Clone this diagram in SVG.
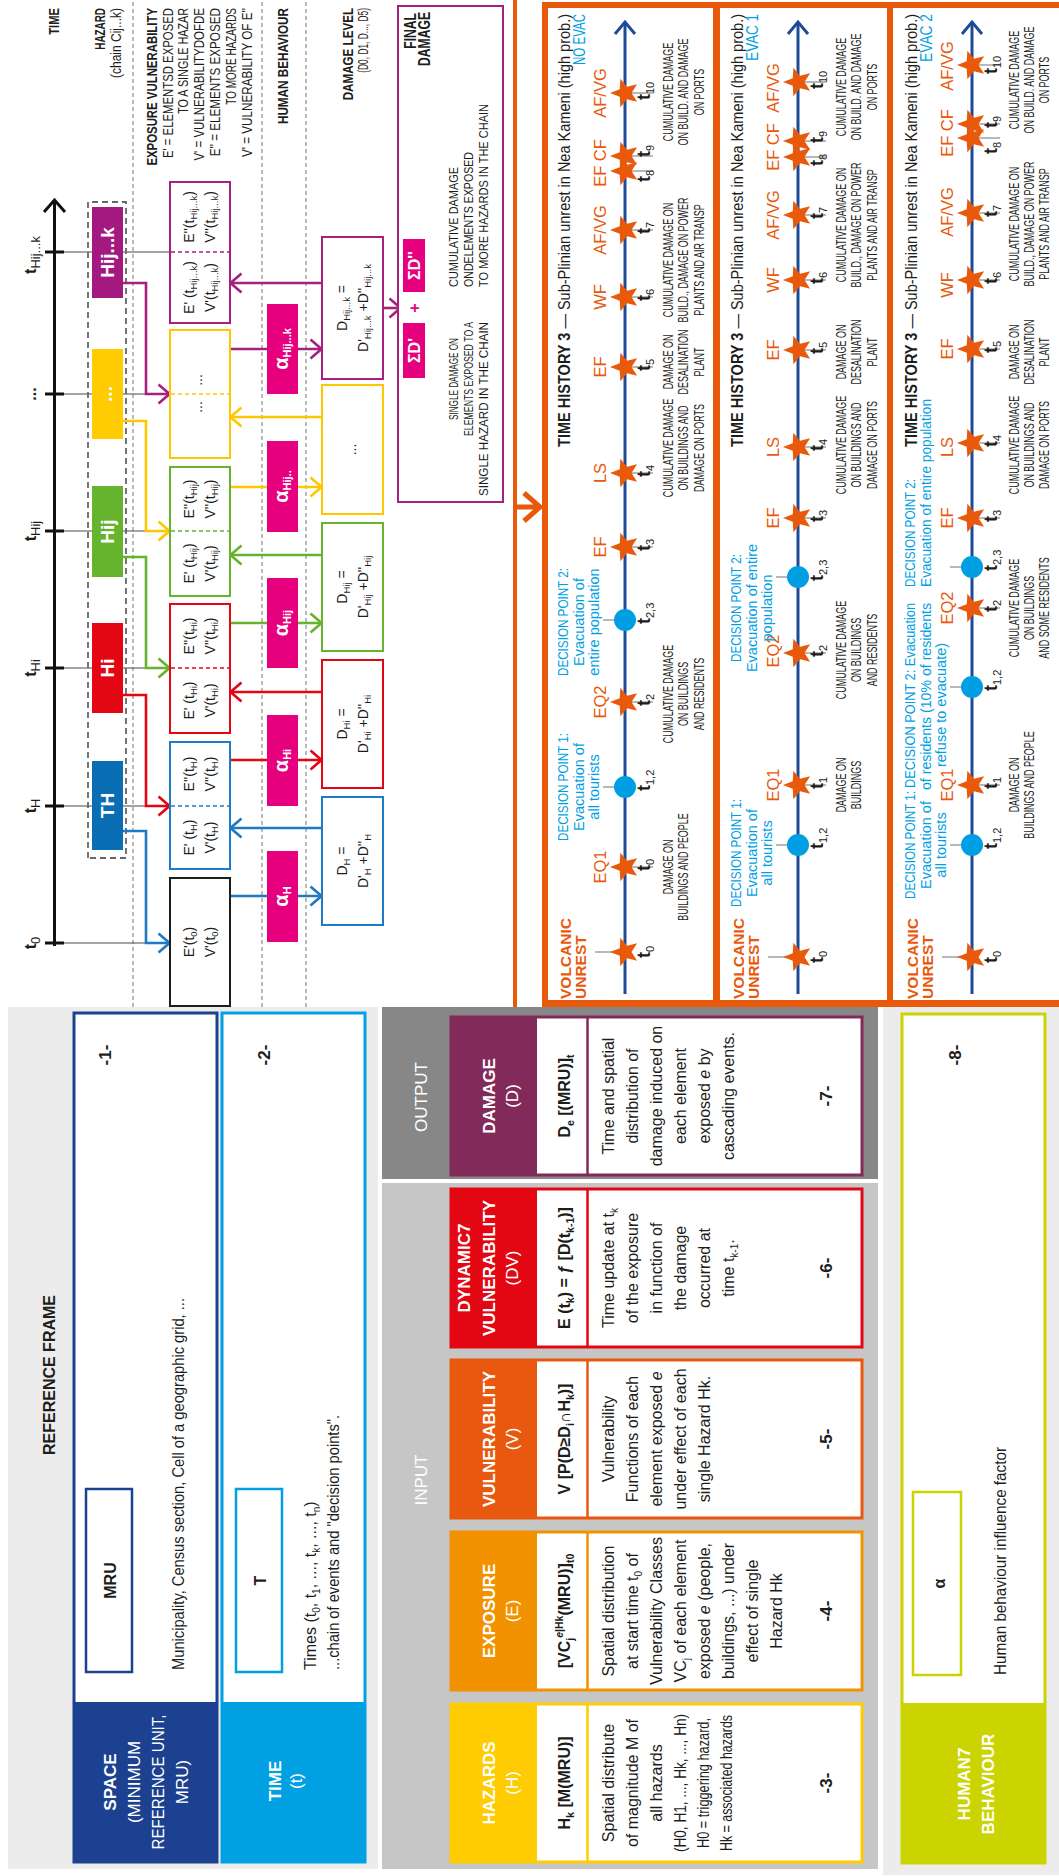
<svg xmlns="http://www.w3.org/2000/svg" width="1059" height="1876" viewBox="0 0 1059 1876">
<defs>
<style>
text{font-family:"Liberation Sans",Arial,Helvetica,sans-serif;fill:#1d1d1b;font-size:16px}
.b{font-weight:700}
.w{fill:#fff}
.m{text-anchor:middle}
.r{text-anchor:end}
.or{fill:#e8590c}
.cy{fill:#009fe3}
.sub{font-size:9.5px}
.dash{stroke:#8c8c8c;stroke-width:1.2;stroke-dasharray:4 3;fill:none}
.ln{fill:none;stroke-width:2.6}
.tk{stroke:#4a4a4a;stroke-width:1.2}
.gt{stroke:#a0a0a0;stroke-width:1.5}
.dm{font-size:14px;text-anchor:middle}
.ev{font-size:16.5px;fill:#e8590c;text-anchor:middle}
.dp{font-size:14.5px;fill:#009fe3;text-anchor:middle}
.dps{font-size:14.5px;fill:#009fe3}
.tt{font-size:18px;font-weight:700}
.tts{font-size:11px;font-weight:400}
.ex{font-size:14px;text-anchor:middle}
.hz{font-size:19px;font-weight:700;fill:#fff;text-anchor:middle}
.al{font-size:20px;font-weight:700;fill:#fff;text-anchor:middle}
.hd{font-size:17px;fill:#fff;text-anchor:middle}
.fm{font-size:16px;font-weight:700;text-anchor:middle}
.ds{font-size:16px;text-anchor:middle}
.num{font-size:17px;font-weight:700;text-anchor:middle}
.rl{font-size:15px;text-anchor:end}
.fd{font-size:12px}
.vu{font-size:15.5px;font-weight:700;fill:#e8590c}
.ttl{font-size:16px;text-anchor:end}
.tl{fill:none;stroke:#1e4b97;stroke-width:3}
</style>
<path id="star" d="M0,-15 L3.82,-5.26 L14.27,-4.64 L6.18,2.01 L8.82,12.14 L0,6.5 L-8.82,12.14 L-6.18,2.01 L-14.27,-4.64 L-3.82,-5.26 Z" fill="#e8590c"/>
<marker id="aBlue" viewBox="0 0 14 22" refX="13" refY="11" markerWidth="14" markerHeight="22" markerUnits="userSpaceOnUse" orient="auto"><path d="M1.5,1.5 L12.5,11 L1.5,20.5" fill="none" stroke="#1e7ac4" stroke-width="2.6"/></marker>
<marker id="aRed" viewBox="0 0 14 22" refX="13" refY="11" markerWidth="14" markerHeight="22" markerUnits="userSpaceOnUse" orient="auto"><path d="M1.5,1.5 L12.5,11 L1.5,20.5" fill="none" stroke="#e30613" stroke-width="2.6"/></marker>
<marker id="aGreen" viewBox="0 0 14 22" refX="13" refY="11" markerWidth="14" markerHeight="22" markerUnits="userSpaceOnUse" orient="auto"><path d="M1.5,1.5 L12.5,11 L1.5,20.5" fill="none" stroke="#66b32e" stroke-width="2.6"/></marker>
<marker id="aYellow" viewBox="0 0 14 22" refX="13" refY="11" markerWidth="14" markerHeight="22" markerUnits="userSpaceOnUse" orient="auto"><path d="M1.5,1.5 L12.5,11 L1.5,20.5" fill="none" stroke="#fdc800" stroke-width="2.6"/></marker>
<marker id="aPurple" viewBox="0 0 14 22" refX="13" refY="11" markerWidth="14" markerHeight="22" markerUnits="userSpaceOnUse" orient="auto"><path d="M1.5,1.5 L12.5,11 L1.5,20.5" fill="none" stroke="#a5207f" stroke-width="2.6"/></marker>
<marker id="aMag" viewBox="0 0 14 22" refX="13" refY="11" markerWidth="14" markerHeight="22" markerUnits="userSpaceOnUse" orient="auto"><path d="M1.5,1.5 L12.5,11 L1.5,20.5" fill="none" stroke="#e6007e" stroke-width="2.4"/></marker>
</defs>
<rect width="1059" height="1876" fill="#fff"/>
<!-- landscape layout, turned a quarter turn counter-clockwise -->
<g transform="translate(0 1876) rotate(-90)">

<!-- ===== row separators of the cascade chain ===== -->
<g id="row-separators">
<line class="dash" x1="869" y1="133" x2="1876" y2="133"/>
<line class="dash" x1="869" y1="262" x2="1876" y2="262"/>
<line class="dash" x1="869" y1="306" x2="1876" y2="306"/>
</g>

<!-- row labels -->
<g id="row-labels">
<text class="rl b" transform="translate(1868 59) scale(0.75 1)">TIME</text>
<text class="rl b" transform="translate(1868 105) scale(0.66 1)">HAZARD</text>
<text class="rl" transform="translate(1868 121) scale(0.8 1)">(chain Cij...k)</text>
<text class="rl b" transform="translate(1868 157) scale(0.76 1)">EXPOSURE VULNERABILITY</text>
<text class="rl" transform="translate(1868 173) scale(0.757 1)">E' = ELEMENTSD EXPOSED</text>
<text class="rl" transform="translate(1868 188) scale(0.72 1)">TO A SINGLE HAZAR</text>
<text class="rl" transform="translate(1868 204) scale(0.766 1)">V' = VULNERABILITYDOFDE</text>
<text class="rl" transform="translate(1868 220) scale(0.78 1)">E'' = ELEMENTS EXPOSED</text>
<text class="rl" transform="translate(1868 236) scale(0.665 1)">TO MORE HAZARDS</text>
<text class="rl" transform="translate(1868 252) scale(0.78 1)">V' = VULNERABILITY OF E''</text>
<text class="rl b" transform="translate(1868 288) scale(0.78 1)">HUMAN BEHAVIOUR</text>
<text class="rl b" transform="translate(1868 353) scale(0.775 1)">DAMAGE LEVEL</text>
<text class="rl" font-size="13" transform="translate(1868 368) scale(0.56 1)">(D0, D1, D..., D5)</text>
</g>

<!-- ===== orange divider towards the time histories ===== -->
<g id="divider">
<line x1="869" y1="515" x2="1876" y2="515" stroke="#e8590c" stroke-width="4"/>
<path d="M1369,515 V538 M1355,524 L1369,540 L1383,524" fill="none" stroke="#e8590c" stroke-width="5"/>
</g>

<!-- ===== time history frames ===== -->
<g id="time-history-frames">
<rect x="869" y="542" width="1005" height="524" fill="#e8590c"/>
<rect x="876" y="548" width="992" height="165" fill="#fff"/>
<rect x="876" y="720" width="992" height="167" fill="#fff"/>
<rect x="876" y="893" width="992" height="173" fill="#fff"/>
</g>

<!-- ===== time history 1 ===== -->
<g id="time-history-1">
<text class="ttl" transform="translate(1862 570) scale(0.908 1)"><tspan class="b">TIME HISTORY 3</tspan> — Sub-Plinian unrest in Nea Kameni (high prob.)</text>
<text class="cy r" font-size="14" transform="translate(1862 585) scale(0.72 1)">NO EVAC</text>
<line x1="882" y1="625" x2="1853" y2="625" stroke="#1e4b97" stroke-width="3"/>
<polyline class="tl" points="1842,615 1854,625 1842,635"/>
<g class="gt">
<line x1="924" y1="595" x2="924" y2="625"/><line x1="1089" y1="603" x2="1089" y2="625"/><line x1="1256" y1="603" x2="1256" y2="625"/>
<line x1="1009" y1="625" x2="1009" y2="653"/><line x1="1174" y1="625" x2="1174" y2="653"/><line x1="1329" y1="625" x2="1329" y2="653"/>
<line x1="1403" y1="625" x2="1403" y2="653"/><line x1="1509" y1="625" x2="1509" y2="653"/><line x1="1579" y1="625" x2="1579" y2="653"/>
<line x1="1646" y1="625" x2="1646" y2="653"/><line x1="1705" y1="625" x2="1705" y2="653"/><line x1="1720" y1="625" x2="1720" y2="653"/>
<line x1="1783" y1="625" x2="1783" y2="653"/>
</g>
<use href="#star" x="924" y="625"/><use href="#star" x="1009" y="625"/><use href="#star" x="1174" y="625"/><use href="#star" x="1329" y="625"/>
<use href="#star" x="1403" y="625"/><use href="#star" x="1509" y="625"/><use href="#star" x="1579" y="625"/><use href="#star" x="1646" y="625"/>
<use href="#star" x="1705" y="625"/><use href="#star" x="1720" y="625"/><use href="#star" x="1783" y="625"/>
<circle cx="1089" cy="625" r="11" fill="#009fe3"/><circle cx="1256" cy="625" r="11" fill="#009fe3"/>
<text class="vu" x="877" y="571">VOLCANIC</text><text class="vu" x="877" y="586">UNREST</text>
<text class="ev" x="1009" y="606">EQ1</text><text class="ev" x="1174" y="606">EQ2</text><text class="ev" x="1329" y="606">EF</text>
<text class="ev" x="1403" y="606">LS</text><text class="ev" x="1509" y="606">EF</text><text class="ev" x="1579" y="606">WF</text>
<text class="ev" x="1646" y="606">AF/VG</text><text class="ev" x="1713" y="606">EF CF</text><text class="ev" x="1783" y="606">AF/VG</text>
<text class="dps" x="1035" y="568" textLength="108" lengthAdjust="spacingAndGlyphs">DECISION POINT 1:</text>
<text class="dp" x="1089" y="584">Evacuation of</text><text class="dp" x="1089" y="599">all tourists</text>
<text class="dps" x="1200" y="568" textLength="108" lengthAdjust="spacingAndGlyphs">DECISION POINT 2:</text>
<text class="dp" x="1254" y="584">Evacuation of</text><text class="dp" x="1254" y="599">entire population</text>
<text class="tt" x="918" y="650">t<tspan class="tts" dy="4">0</tspan></text>
<text class="tt" x="1005" y="650">t<tspan class="tts" dy="4">0</tspan></text>
<text class="tt" x="1085" y="650">t<tspan class="tts" dy="4">1,2</tspan></text>
<text class="tt" x="1170" y="650">t<tspan class="tts" dy="4">2</tspan></text>
<text class="tt" x="1252" y="650">t<tspan class="tts" dy="4">2,3</tspan></text>
<text class="tt" x="1325" y="650">t<tspan class="tts" dy="4">3</tspan></text>
<text class="tt" x="1399" y="650">t<tspan class="tts" dy="4">4</tspan></text>
<text class="tt" x="1505" y="650">t<tspan class="tts" dy="4">5</tspan></text>
<text class="tt" x="1575" y="650">t<tspan class="tts" dy="4">6</tspan></text>
<text class="tt" x="1642" y="650">t<tspan class="tts" dy="4">7</tspan></text>
<text class="tt" x="1694" y="650">t<tspan class="tts" dy="4">8</tspan></text>
<text class="tt" x="1719" y="650">t<tspan class="tts" dy="4">9</tspan></text>
<text class="tt" x="1776" y="650">t<tspan class="tts" dy="4">10</tspan></text>
<g transform="translate(1009 673) scale(0.64 1)"><text class="dm"><tspan x="0" y="0">DAMAGE ON</tspan><tspan x="0" y="15.5">BUILDINGS AND PEOPLE</tspan></text></g>
<g transform="translate(1182 673) scale(0.64 1)"><text class="dm"><tspan x="0" y="0">CUMULATIVE DAMAGE</tspan><tspan x="0" y="15.5">ON BUILDINGS</tspan><tspan x="0" y="31">AND RESIDENTS</tspan></text></g>
<g transform="translate(1428 673) scale(0.64 1)"><text class="dm"><tspan x="0" y="0">CUMULATIVE DAMAGE</tspan><tspan x="0" y="15.5">ON BUILDINGS AND</tspan><tspan x="0" y="31">DAMAGE ON PORTS</tspan></text></g>
<g transform="translate(1514 673) scale(0.64 1)"><text class="dm"><tspan x="0" y="0">DAMAGE ON</tspan><tspan x="0" y="15.5">DESALINATION</tspan><tspan x="0" y="31">PLANT</tspan></text></g>
<g transform="translate(1616 673) scale(0.64 1)"><text class="dm"><tspan x="0" y="0">CUMULATIVE DAMAGE ON</tspan><tspan x="0" y="15.5">BUILD., DAMAGE ON POWER</tspan><tspan x="0" y="31">PLANTS AND AIR TRANSP</tspan></text></g>
<g transform="translate(1784 673) scale(0.64 1)"><text class="dm"><tspan x="0" y="0">CUMULATIVE DAMAGE</tspan><tspan x="0" y="15.5">ON BUILD. AND DAMAGE</tspan><tspan x="0" y="31">ON PORTS</tspan></text></g>
</g>

<!-- ===== time history 2 ===== -->
<g id="time-history-2">
<text class="ttl" transform="translate(1862 743) scale(0.908 1)"><tspan class="b">TIME HISTORY 3</tspan> — Sub-Plinian unrest in Nea Kameni (high prob.)</text>
<text class="cy r" font-size="14" transform="translate(1862 758) scale(0.84 1)">EVAC 1</text>
<line x1="882" y1="798" x2="1853" y2="798" stroke="#1e4b97" stroke-width="3"/>
<polyline class="tl" points="1842,788 1854,798 1842,808"/>
<g class="gt">
<line x1="919" y1="768" x2="919" y2="798"/><line x1="1031" y1="776" x2="1031" y2="798"/><line x1="1299" y1="776" x2="1299" y2="798"/>
<line x1="1091" y1="798" x2="1091" y2="826"/><line x1="1223" y1="798" x2="1223" y2="826"/><line x1="1358" y1="798" x2="1358" y2="826"/>
<line x1="1429" y1="798" x2="1429" y2="826"/><line x1="1526" y1="798" x2="1526" y2="826"/><line x1="1596" y1="798" x2="1596" y2="826"/>
<line x1="1661" y1="798" x2="1661" y2="826"/><line x1="1719" y1="798" x2="1719" y2="826"/><line x1="1735" y1="798" x2="1735" y2="826"/>
<line x1="1794" y1="798" x2="1794" y2="826"/>
</g>
<use href="#star" x="919" y="798"/><use href="#star" x="1091" y="798"/><use href="#star" x="1223" y="798"/><use href="#star" x="1358" y="798"/>
<use href="#star" x="1429" y="798"/><use href="#star" x="1526" y="798"/><use href="#star" x="1596" y="798"/><use href="#star" x="1661" y="798"/>
<use href="#star" x="1719" y="798"/><use href="#star" x="1735" y="798"/><use href="#star" x="1794" y="798"/>
<circle cx="1031" cy="798" r="11" fill="#009fe3"/><circle cx="1299" cy="798" r="11" fill="#009fe3"/>
<text class="vu" x="877" y="744">VOLCANIC</text><text class="vu" x="877" y="759">UNREST</text>
<text class="ev" x="1091" y="779">EQ1</text><text class="ev" x="1225" y="779">EQ2</text><text class="ev" x="1358" y="779">EF</text>
<text class="ev" x="1429" y="779">LS</text><text class="ev" x="1526" y="779">EF</text><text class="ev" x="1596" y="779">WF</text>
<text class="ev" x="1661" y="779">AF/VG</text><text class="ev" x="1729" y="779">EF CF</text><text class="ev" x="1788" y="779">AF/VG</text>
<text class="dps" x="969" y="741" textLength="108" lengthAdjust="spacingAndGlyphs">DECISION POINT 1:</text>
<text class="dp" x="1023" y="757">Evacuation of</text><text class="dp" x="1023" y="772">all tourists</text>
<text class="dps" x="1214" y="741" textLength="108" lengthAdjust="spacingAndGlyphs">DECISION POINT 2:</text>
<text class="dp" x="1268" y="757">Evacuation of entire</text><text class="dp" x="1268" y="772">population</text>
<text class="tt" x="913" y="823">t<tspan class="tts" dy="4">0</tspan></text>
<text class="tt" x="1027" y="823">t<tspan class="tts" dy="4">1,2</tspan></text>
<text class="tt" x="1087" y="823">t<tspan class="tts" dy="4">1</tspan></text>
<text class="tt" x="1219" y="823">t<tspan class="tts" dy="4">2</tspan></text>
<text class="tt" x="1295" y="823">t<tspan class="tts" dy="4">2,3</tspan></text>
<text class="tt" x="1354" y="823">t<tspan class="tts" dy="4">3</tspan></text>
<text class="tt" x="1425" y="823">t<tspan class="tts" dy="4">4</tspan></text>
<text class="tt" x="1522" y="823">t<tspan class="tts" dy="4">5</tspan></text>
<text class="tt" x="1592" y="823">t<tspan class="tts" dy="4">6</tspan></text>
<text class="tt" x="1657" y="823">t<tspan class="tts" dy="4">7</tspan></text>
<text class="tt" x="1710" y="823">t<tspan class="tts" dy="4">8</tspan></text>
<text class="tt" x="1733" y="823">t<tspan class="tts" dy="4">9</tspan></text>
<text class="tt" x="1787" y="823">t<tspan class="tts" dy="4">10</tspan></text>
<g transform="translate(1091 846) scale(0.64 1)"><text class="dm"><tspan x="0" y="0">DAMAGE ON</tspan><tspan x="0" y="15.5">BUILDINGS</tspan></text></g>
<g transform="translate(1226 846) scale(0.64 1)"><text class="dm"><tspan x="0" y="0">CUMULATIVE DAMAGE</tspan><tspan x="0" y="15.5">ON BUILDINGS</tspan><tspan x="0" y="31">AND RESIDENTS</tspan></text></g>
<g transform="translate(1431 846) scale(0.64 1)"><text class="dm"><tspan x="0" y="0">CUMULATIVE DAMAGE</tspan><tspan x="0" y="15.5">ON BUILDINGS AND</tspan><tspan x="0" y="31">DAMAGE ON PORTS</tspan></text></g>
<g transform="translate(1524 846) scale(0.64 1)"><text class="dm"><tspan x="0" y="0">DAMAGE ON</tspan><tspan x="0" y="15.5">DESALINATION</tspan><tspan x="0" y="31">PLANT</tspan></text></g>
<g transform="translate(1651 846) scale(0.64 1)"><text class="dm"><tspan x="0" y="0">CUMULATIVE DAMAGE ON</tspan><tspan x="0" y="15.5">BUILD., DAMAGE ON POWER</tspan><tspan x="0" y="31">PLANTS AND AIR TRANSP</tspan></text></g>
<g transform="translate(1789 846) scale(0.64 1)"><text class="dm"><tspan x="0" y="0">CUMULATIVE DAMAGE</tspan><tspan x="0" y="15.5">ON BUILD. AND DAMAGE</tspan><tspan x="0" y="31">ON PORTS</tspan></text></g>
</g>

<!-- ===== time history 3 ===== -->
<g id="time-history-3">
<text class="ttl" transform="translate(1862 917) scale(0.908 1)"><tspan class="b">TIME HISTORY 3</tspan> — Sub-Plinian unrest in Nea Kameni (high prob.)</text>
<text class="cy r" font-size="14" transform="translate(1862 932) scale(0.86 1)">EVAC 2</text>
<line x1="882" y1="972" x2="1853" y2="972" stroke="#1e4b97" stroke-width="3"/>
<polyline class="tl" points="1842,962 1854,972 1842,982"/>
<g class="gt">
<line x1="919" y1="942" x2="919" y2="972"/><line x1="1031" y1="950" x2="1031" y2="972"/><line x1="1189" y1="950" x2="1189" y2="972"/><line x1="1309" y1="950" x2="1309" y2="972"/>
<line x1="1091" y1="972" x2="1091" y2="1000"/><line x1="1268" y1="972" x2="1268" y2="1000"/><line x1="1358" y1="972" x2="1358" y2="1000"/>
<line x1="1433" y1="972" x2="1433" y2="1000"/><line x1="1527" y1="972" x2="1527" y2="1000"/><line x1="1596" y1="972" x2="1596" y2="1000"/>
<line x1="1663" y1="972" x2="1663" y2="1000"/><line x1="1738" y1="972" x2="1738" y2="1000"/><line x1="1752" y1="972" x2="1752" y2="1000"/>
<line x1="1811" y1="972" x2="1811" y2="1000"/>
</g>
<use href="#star" x="919" y="972"/><use href="#star" x="1091" y="972"/><use href="#star" x="1268" y="972"/><use href="#star" x="1358" y="972"/>
<use href="#star" x="1433" y="972"/><use href="#star" x="1527" y="972"/><use href="#star" x="1596" y="972"/><use href="#star" x="1663" y="972"/>
<use href="#star" x="1738" y="972"/><use href="#star" x="1752" y="972"/><use href="#star" x="1811" y="972"/>
<circle cx="1031" cy="972" r="11" fill="#009fe3"/><circle cx="1189" cy="972" r="11" fill="#009fe3"/><circle cx="1309" cy="972" r="11" fill="#009fe3"/>
<text class="vu" x="877" y="918">VOLCANIC</text><text class="vu" x="877" y="933">UNREST</text>
<text class="ev" x="1091" y="953">EQ1</text><text class="ev" x="1268" y="953">EQ2</text><text class="ev" x="1358" y="953">EF</text>
<text class="ev" x="1429" y="953">LS</text><text class="ev" x="1527" y="953">EF</text><text class="ev" x="1591" y="953">WF</text>
<text class="ev" x="1664" y="953">AF/VG</text><text class="ev" x="1743" y="953">EF CF</text><text class="ev" x="1810" y="953">AF/VG</text>
<text class="dps" x="977" y="915" textLength="108" lengthAdjust="spacingAndGlyphs">DECISION POINT 1:</text>
<text class="dp" x="1031" y="931">Evacuation of</text><text class="dp" x="1031" y="946">all tourists</text>
<text class="dps" x="1088" y="915" textLength="185" lengthAdjust="spacingAndGlyphs">DECISION POINT 2: Evacuation</text>
<text class="dps" x="1086" y="931" textLength="187" lengthAdjust="spacingAndGlyphs">of residents (10% of residents</text><text class="dp" x="1171" y="946">refuse to evacuate)</text>
<text class="dps" x="1289" y="915" textLength="108" lengthAdjust="spacingAndGlyphs">DECISION POINT 2:</text>
<text class="dps" x="1289" y="931" textLength="188" lengthAdjust="spacingAndGlyphs">Evacuation of entire population</text>
<text class="tt" x="913" y="997">t<tspan class="tts" dy="4">0</tspan></text>
<text class="tt" x="1027" y="997">t<tspan class="tts" dy="4">1,2</tspan></text>
<text class="tt" x="1087" y="997">t<tspan class="tts" dy="4">1</tspan></text>
<text class="tt" x="1185" y="997">t<tspan class="tts" dy="4">1,2</tspan></text>
<text class="tt" x="1264" y="997">t<tspan class="tts" dy="4">2</tspan></text>
<text class="tt" x="1305" y="997">t<tspan class="tts" dy="4">2,3</tspan></text>
<text class="tt" x="1354" y="997">t<tspan class="tts" dy="4">3</tspan></text>
<text class="tt" x="1429" y="997">t<tspan class="tts" dy="4">4</tspan></text>
<text class="tt" x="1523" y="997">t<tspan class="tts" dy="4">5</tspan></text>
<text class="tt" x="1592" y="997">t<tspan class="tts" dy="4">6</tspan></text>
<text class="tt" x="1659" y="997">t<tspan class="tts" dy="4">7</tspan></text>
<text class="tt" x="1722" y="997">t<tspan class="tts" dy="4">8</tspan></text>
<text class="tt" x="1748" y="997">t<tspan class="tts" dy="4">9</tspan></text>
<text class="tt" x="1802" y="997">t<tspan class="tts" dy="4">10</tspan></text>
<g transform="translate(1091 1019) scale(0.64 1)"><text class="dm"><tspan x="0" y="0">DAMAGE ON</tspan><tspan x="0" y="15">BUILDINGS AND PEOPLE</tspan></text></g>
<g transform="translate(1268 1019) scale(0.64 1)"><text class="dm"><tspan x="0" y="0">CUMULATIVE DAMAGE</tspan><tspan x="0" y="15">ON BUILDINGS</tspan><tspan x="0" y="30">AND SOME RESIDENTS</tspan></text></g>
<g transform="translate(1431 1019) scale(0.64 1)"><text class="dm"><tspan x="0" y="0">CUMULATIVE DAMAGE</tspan><tspan x="0" y="15">ON BUILDINGS AND</tspan><tspan x="0" y="30">DAMAGE ON PORTS</tspan></text></g>
<g transform="translate(1524 1019) scale(0.64 1)"><text class="dm"><tspan x="0" y="0">DAMAGE ON</tspan><tspan x="0" y="15">DESALINATION</tspan><tspan x="0" y="30">PLANT</tspan></text></g>
<g transform="translate(1652 1019) scale(0.64 1)"><text class="dm"><tspan x="0" y="0">CUMULATIVE DAMAGE ON</tspan><tspan x="0" y="15">BUILD., DAMAGE ON POWER</tspan><tspan x="0" y="30">PLANTS AND AIR TRANSP</tspan></text></g>
<g transform="translate(1796 1019) scale(0.64 1)"><text class="dm"><tspan x="0" y="0">CUMULATIVE DAMAGE</tspan><tspan x="0" y="15">ON BUILD. AND DAMAGE</tspan><tspan x="0" y="30">ON PORTS</tspan></text></g>
</g>

<!-- ===== reference frame ===== -->
<g id="reference-frame">
<rect x="7" y="8" width="862" height="370" fill="#ececec"/>
<text class="b m" x="501" y="55" font-size="19">REFERENCE FRAME</text>
</g>
<g id="space">
<rect x="14" y="74" width="849" height="143" fill="#fff" stroke="#1d4191" stroke-width="3"/>
<rect x="14" y="74" width="160" height="143" fill="#1d4191"/>
<text class="hd b" x="94" y="116" font-size="16">SPACE</text>
<text class="hd" x="94" y="140" font-size="15.5">(MINIMUM</text>
<text class="hd" x="26.5" y="164" font-size="15.5" style="text-anchor:start" textLength="135" lengthAdjust="spacingAndGlyphs">REFERENCE UNIT,</text>
<text class="hd" x="94" y="188" font-size="15.5">MRU)</text>
<rect x="204" y="86" width="183" height="46" fill="#fff" stroke="#1d4191" stroke-width="2.5"/>
<text class="b m" x="295.5" y="116" font-size="18">MRU</text>
<text x="206" y="184" font-size="17" textLength="372" lengthAdjust="spacingAndGlyphs">Municipality, Census section, Cell of a geographic grid, ...</text>
<text class="num" x="821" y="111">-1-</text>
</g>
<g id="time">
<rect x="14" y="222" width="849" height="143" fill="#fff" stroke="#00a0e3" stroke-width="3"/>
<rect x="14" y="222" width="160" height="143" fill="#00a0e3"/>
<text class="hd b" x="95" y="281" font-size="17">TIME</text>
<text class="hd" x="95" y="302" font-size="16">(t)</text>
<rect x="204" y="236" width="183" height="46" fill="#fff" stroke="#00a0e3" stroke-width="2.5"/>
<text class="b m" x="295.5" y="266" font-size="18">T</text>
<text x="206" y="316" font-size="17">Times (t<tspan font-size="10" dy="4">0</tspan><tspan dy="-4">, t</tspan><tspan font-size="10" dy="4">1</tspan><tspan dy="-4">, ..., t</tspan><tspan font-size="10" dy="4">k</tspan><tspan dy="-4">, ..., t</tspan><tspan font-size="10" dy="4">n</tspan><tspan dy="-4">)</tspan></text>
<text x="206" y="339" font-size="17" textLength="255" lengthAdjust="spacingAndGlyphs">...chain of events and "decision points".</text>
<text class="num" x="821" y="270">-2-</text>
</g>

<!-- ===== input / output ===== -->
<g id="input-output">
<rect x="7" y="382" width="686" height="496" fill="#c6c6c6"/>
<rect x="697" y="382" width="172" height="496" fill="#878787"/>
<text class="hd" x="396" y="427" font-size="18">INPUT</text>
<text class="hd" x="779" y="427" font-size="18">OUTPUT</text>
</g>
<g id="hazards">
<rect x="14" y="451" width="158" height="411" fill="#fff" stroke="#fecc00" stroke-width="3"/>
<rect x="14" y="451" width="158" height="86" fill="#fecc00"/>
<line x1="14" y1="587.5" x2="172" y2="587.5" stroke="#fecc00" stroke-width="2.5"/>
<text class="hd b" x="93" y="495">HAZARDS</text><text class="hd" x="93" y="518">(H)</text>
<text class="fm" x="93" y="570">H<tspan font-size="11" dy="4">k</tspan><tspan dy="-4"> [M(MRU)]</tspan></text>
<text class="ds" x="93" y="614">Spatial distribute</text>
<text class="ds" x="93" y="638">of magnitude M of</text>
<text class="ds" x="93" y="662">all hazards</text>
<text class="ds" x="24" y="686" style="text-anchor:start" textLength="138" lengthAdjust="spacingAndGlyphs">(H0, H1, ..., Hk, ..., Hn)</text>
<text x="28" y="709" font-size="13" textLength="130" lengthAdjust="spacingAndGlyphs">H0 = triggering hazard,</text>
<text x="25" y="732" font-size="13" textLength="136" lengthAdjust="spacingAndGlyphs">Hk = associated hazards</text>
<text class="num" x="93" y="832">-3-</text>
</g>
<g id="exposure">
<rect x="186" y="451" width="158" height="411" fill="#fff" stroke="#f39200" stroke-width="3"/>
<rect x="186" y="451" width="158" height="86" fill="#f39200"/>
<line x1="186" y1="587.5" x2="344" y2="587.5" stroke="#f39200" stroke-width="2.5"/>
<text class="hd b" x="265" y="495">EXPOSURE</text><text class="hd" x="265" y="518">(E)</text>
<text class="fm" x="265" y="570">[VC<tspan font-size="10.5" dy="4">j</tspan><tspan font-size="10.5" dy="-11" font-style="italic">e</tspan><tspan font-size="10.5">|Hk</tspan><tspan dy="7">(MRU)]</tspan><tspan font-size="10.5" dy="4">t0</tspan></text>
<text class="ds" x="265" y="614">Spatial distribution</text>
<text class="ds" x="265" y="638">at start time t<tspan font-size="10" dy="4">0</tspan><tspan dy="-4"> of</tspan></text>
<text class="ds" x="265" y="662">Vulnerability Classes</text>
<text class="ds" x="265" y="686">VC<tspan font-size="10" dy="4">j</tspan><tspan dy="-4"> of each element</tspan></text>
<text class="ds" x="265" y="710">exposed <tspan font-style="italic">e</tspan> (people,</text>
<text class="ds" x="265" y="734">buildings, ...) under</text>
<text class="ds" x="265" y="758">effect of single</text>
<text class="ds" x="265" y="782">Hazard Hk</text>
<text class="num" x="265" y="832">-4-</text>
</g>
<g id="vulnerability">
<rect x="358" y="451" width="158" height="411" fill="#fff" stroke="#e8590f" stroke-width="3"/>
<rect x="358" y="451" width="158" height="86" fill="#e8590f"/>
<line x1="358" y1="587.5" x2="516" y2="587.5" stroke="#e8590f" stroke-width="2.5"/>
<text class="hd b" x="437" y="495">VULNERABILITY</text><text class="hd" x="437" y="518">(V)</text>
<text class="fm" x="437" y="570">V [P(D≥D<tspan font-size="10.5" dy="4">i</tspan><tspan dy="-4">∩H</tspan><tspan font-size="10.5" dy="4">k</tspan><tspan dy="-4">)]</tspan></text>
<text class="ds" x="437" y="614">Vulnerability</text>
<text class="ds" x="437" y="638">Functions of each</text>
<text class="ds" x="437" y="662">element exposed <tspan font-style="italic">e</tspan></text>
<text class="ds" x="437" y="686">under effect of each</text>
<text class="ds" x="437" y="710">single Hazard Hk.</text>
<text class="num" x="437" y="832">-5-</text>
</g>
<g id="dynamic-vulnerability">
<rect x="529" y="451" width="158" height="411" fill="#fff" stroke="#e30613" stroke-width="3"/>
<rect x="529" y="451" width="158" height="86" fill="#e30613"/>
<line x1="529" y1="587.5" x2="687" y2="587.5" stroke="#e30613" stroke-width="2.5"/>
<text class="hd b" x="608" y="470">DYNAMIC7</text><text class="hd b" x="608" y="495">VULNERABILITY</text><text class="hd" x="608" y="518">(DV)</text>
<text class="fm" x="608" y="570">E (t<tspan font-size="10.5" dy="4">k</tspan><tspan dy="-4">) = ƒ [D(t</tspan><tspan font-size="10.5" dy="4">k-1</tspan><tspan dy="-4">)]</tspan></text>
<text class="ds" x="608" y="614">Time update at t<tspan font-size="10" dy="4">k</tspan></text>
<text class="ds" x="608" y="638">of the exposure</text>
<text class="ds" x="608" y="662">in function of</text>
<text class="ds" x="608" y="686">the damage</text>
<text class="ds" x="608" y="710">occurred at</text>
<text class="ds" x="608" y="734">time t<tspan font-size="10" dy="4">k-1</tspan><tspan dy="-4">.</tspan></text>
<text class="num" x="608" y="832">-6-</text>
</g>
<g id="damage">
<rect x="701" y="451" width="158" height="411" fill="#fff" stroke="#822a5a" stroke-width="3"/>
<rect x="701" y="451" width="158" height="86" fill="#822a5a"/>
<line x1="701" y1="587.5" x2="859" y2="587.5" stroke="#822a5a" stroke-width="2.5"/>
<text class="hd b" x="780" y="495">DAMAGE</text><text class="hd" x="780" y="518">(D)</text>
<text class="fm" x="780" y="570">D<tspan font-size="10.5" dy="4">e</tspan><tspan dy="-4"> [(MRU)]</tspan><tspan font-size="10.5" dy="4">t</tspan></text>
<text class="ds" x="780" y="614">Time and spatial</text>
<text class="ds" x="780" y="638">distribution of</text>
<text class="ds" x="780" y="662">damage induced on</text>
<text class="ds" x="780" y="686">each element</text>
<text class="ds" x="780" y="710">exposed <tspan font-style="italic">e</tspan> by</text>
<text class="ds" x="780" y="734">cascading events.</text>
<text class="num" x="780" y="832">-7-</text>
</g>

<!-- ===== human behaviour ===== -->
<g id="human-behaviour">
<rect x="1" y="883" width="868" height="176" fill="#ececec"/>
<rect x="13" y="902" width="849" height="143" fill="#fff" stroke="#cbd300" stroke-width="3"/>
<rect x="13" y="902" width="160" height="143" fill="#cbd300"/>
<text class="hd b" x="92" y="970">HUMAN7</text><text class="hd b" x="92" y="994">BEHAVIOUR</text>
<rect x="201" y="913" width="183" height="48" fill="#fff" stroke="#cbd300" stroke-width="2.5"/>
<text class="b m" x="292.5" y="945" font-size="24">α</text>
<text x="201" y="1006" font-size="16" textLength="228" lengthAdjust="spacingAndGlyphs">Human behaviour influence factor</text>
<text class="num" x="821" y="961">-8-</text>
</g>

<!-- ===== cascade chain: time axis ===== -->
<g id="time-axis">
<line x1="930" y1="54.5" x2="1675" y2="54.5" stroke="#111" stroke-width="3"/>
<polyline points="1664,44 1676,54.5 1664,65" fill="none" stroke="#111" stroke-width="3"/>
<g stroke="#111" stroke-width="3">
<line x1="933" y1="45" x2="933" y2="64"/><line x1="1070" y1="45" x2="1070" y2="64"/><line x1="1208" y1="45" x2="1208" y2="64"/>
<line x1="1345" y1="45" x2="1345" y2="64"/><line x1="1482" y1="45" x2="1482" y2="64"/><line x1="1624" y1="45" x2="1624" y2="64"/>
</g>
<g class="tk">
<line x1="933" y1="64" x2="933" y2="170"/><line x1="1070" y1="64" x2="1070" y2="170"/><line x1="1208" y1="64" x2="1208" y2="170"/>
<line x1="1345" y1="64" x2="1345" y2="170"/><line x1="1482" y1="64" x2="1482" y2="170"/><line x1="1624" y1="64" x2="1624" y2="170"/>
</g>
<text class="b m" x="933" y="36" font-size="24">t<tspan font-size="13" font-weight="400" dy="4">0</tspan></text>
<text class="b m" x="1070" y="36" font-size="24">t<tspan font-size="13" font-weight="400" dy="4">H</tspan></text>
<text class="b m" x="1208" y="36" font-size="24">t<tspan font-size="13" font-weight="400" dy="4">Hi</tspan></text>
<text class="b m" x="1345" y="36" font-size="24">t<tspan font-size="13" font-weight="400" dy="4">Hij</tspan></text>
<text class="b m" x="1482" y="36" font-size="18">...</text>
<text class="b m" x="1621" y="36" font-size="24">t<tspan font-size="13" font-weight="400" dy="4">Hij...k</tspan></text>
<rect x="1018" y="88" width="656" height="38" fill="none" stroke="#666" stroke-width="1.8" stroke-dasharray="6 4"/>
</g>

<!-- ===== connectors ===== -->
<g id="connectors">
<path class="ln" stroke="#1e7ac4" d="M1045,123 V146 H933 V170" marker-end="url(#aBlue)"/>
<path class="ln" stroke="#e30613" d="M1181,123 V146 H1070 V170" marker-end="url(#aRed)"/>
<path class="ln" stroke="#66b32e" d="M1319,123 V146 H1208 V170" marker-end="url(#aGreen)"/>
<path class="ln" stroke="#fdc800" d="M1455,123 V146 H1345 V170" marker-end="url(#aYellow)"/>
<path class="ln" stroke="#a5207f" d="M1593,123 V146 H1482 V170" marker-end="url(#aPurple)"/>
<path class="ln" stroke="#1e7ac4" d="M980,230 V322" marker-end="url(#aBlue)"/>
<path class="ln" stroke="#e30613" d="M1116,230 V322" marker-end="url(#aRed)"/>
<path class="ln" stroke="#66b32e" d="M1253,230 V322" marker-end="url(#aGreen)"/>
<path class="ln" stroke="#fdc800" d="M1389,230 V322" marker-end="url(#aYellow)"/>
<path class="ln" stroke="#a5207f" d="M1527,230 V322" marker-end="url(#aPurple)"/>
<path class="ln" stroke="#1e7ac4" d="M1048,322 V230" marker-end="url(#aBlue)"/>
<path class="ln" stroke="#e30613" d="M1184,322 V230" marker-end="url(#aRed)"/>
<path class="ln" stroke="#66b32e" d="M1321,322 V230" marker-end="url(#aGreen)"/>
<path class="ln" stroke="#fdc800" d="M1459,322 V230" marker-end="url(#aYellow)"/>
<path class="ln" stroke="#a5207f" d="M1593,322 V230" marker-end="url(#aPurple)"/>
<path class="ln" stroke="#a5207f" d="M1568,383 V401" marker-end="url(#aPurple)"/>
<path class="ln" stroke="#e6007e" stroke-width="2.2" d="M1541,425 V443" marker-end="url(#aMag)"/>
<path class="ln" stroke="#e6007e" stroke-width="2.2" d="M1589,425 V443" marker-end="url(#aMag)"/>
</g>

<!-- ===== hazards ===== -->
<g id="hazard-TH"><rect x="1026" y="92" width="89" height="31" fill="#0a6eb4"/><text class="hz" x="1070.5" y="114">TH</text></g>
<g id="hazard-Hi"><rect x="1163" y="92" width="90" height="31" fill="#e30613"/><text class="hz" x="1208" y="114">Hi</text></g>
<g id="hazard-Hij"><rect x="1299" y="92" width="91" height="31" fill="#66b32e"/><text class="hz" x="1344.5" y="114">Hij</text></g>
<g id="hazard-dots"><rect x="1437" y="92" width="90" height="31" fill="#fecc00"/><text class="hz" x="1482" y="112">...</text></g>
<g id="hazard-Hijk"><rect x="1578" y="92" width="91" height="31" fill="#a3197f"/><text class="hz" x="1623.5" y="114">Hij...k</text></g>

<!-- ===== exposure / vulnerability states ===== -->
<g id="exposure-t0">
<rect x="870" y="170" width="128" height="60" fill="#fff" stroke="#1d1d1b" stroke-width="2"/>
<text class="ex" x="934" y="194">E'(t<tspan class="sub" dy="3">0</tspan><tspan dy="-3">)</tspan></text>
<text class="ex" x="934" y="215">V'(t<tspan class="sub" dy="3">0</tspan><tspan dy="-3">)</tspan></text>
</g>
<g id="exposure-H">
<rect x="1007" y="170" width="127" height="60" fill="#fff" stroke="#1e7ac4" stroke-width="2"/>
<line x1="1070" y1="171" x2="1070" y2="229" stroke="#1e7ac4" stroke-width="1.5" stroke-dasharray="4 3"/>
<text class="ex" x="1038.5" y="194">E' (t<tspan class="sub" dy="3">H</tspan><tspan dy="-3">)</tspan></text>
<text class="ex" x="1038.5" y="215">V'(t<tspan class="sub" dy="3">H</tspan><tspan dy="-3">)</tspan></text>
<text class="ex" x="1102" y="194">E''(t<tspan class="sub" dy="3">H</tspan><tspan dy="-3">)</tspan></text>
<text class="ex" x="1102" y="215">V''(t<tspan class="sub" dy="3">H</tspan><tspan dy="-3">)</tspan></text>
</g>
<g id="exposure-Hi">
<rect x="1143" y="170" width="129" height="60" fill="#fff" stroke="#e30613" stroke-width="2"/>
<line x1="1208" y1="171" x2="1208" y2="229" stroke="#e30613" stroke-width="1.5" stroke-dasharray="4 3"/>
<text class="ex" x="1175.5" y="194">E' (t<tspan class="sub" dy="3">Hi</tspan><tspan dy="-3">)</tspan></text>
<text class="ex" x="1175.5" y="215">V'(t<tspan class="sub" dy="3">Hi</tspan><tspan dy="-3">)</tspan></text>
<text class="ex" x="1240" y="194">E''(t<tspan class="sub" dy="3">Hi</tspan><tspan dy="-3">)</tspan></text>
<text class="ex" x="1240" y="215">V''(t<tspan class="sub" dy="3">Hi</tspan><tspan dy="-3">)</tspan></text>
</g>
<g id="exposure-Hij">
<rect x="1280" y="170" width="129" height="60" fill="#fff" stroke="#66b32e" stroke-width="2"/>
<line x1="1345" y1="171" x2="1345" y2="229" stroke="#66b32e" stroke-width="1.5" stroke-dasharray="4 3"/>
<text class="ex" x="1312.5" y="194">E' (t<tspan class="sub" dy="3">Hij</tspan><tspan dy="-3">)</tspan></text>
<text class="ex" x="1312.5" y="215">V'(t<tspan class="sub" dy="3">Hij</tspan><tspan dy="-3">)</tspan></text>
<text class="ex" x="1377" y="194">E''(t<tspan class="sub" dy="3">Hij</tspan><tspan dy="-3">)</tspan></text>
<text class="ex" x="1377" y="215">V''(t<tspan class="sub" dy="3">Hij</tspan><tspan dy="-3">)</tspan></text>
</g>
<g id="exposure-dots">
<rect x="1418" y="170" width="128" height="60" fill="#fff" stroke="#fdc800" stroke-width="2"/>
<line x1="1482" y1="171" x2="1482" y2="229" stroke="#fdc800" stroke-width="1.5" stroke-dasharray="4 3"/>
<text class="ex" x="1469" y="202" font-size="12">...</text>
<text class="ex" x="1496" y="202" font-size="12">...</text>
</g>
<g id="exposure-Hijk">
<rect x="1553" y="170" width="141" height="60" fill="#fff" stroke="#a5207f" stroke-width="2"/>
<line x1="1624" y1="171" x2="1624" y2="229" stroke="#a5207f" stroke-width="1.5" stroke-dasharray="4 3"/>
<text class="ex" x="1588.5" y="194">E' (t<tspan class="sub" dy="3">Hij...k</tspan><tspan dy="-3">)</tspan></text>
<text class="ex" x="1588.5" y="215">V'(t<tspan class="sub" dy="3">Hij...k</tspan><tspan dy="-3">)</tspan></text>
<text class="ex" x="1659" y="194">E''(t<tspan class="sub" dy="3">Hij...k</tspan><tspan dy="-3">)</tspan></text>
<text class="ex" x="1659" y="215">V''(t<tspan class="sub" dy="3">Hij...k</tspan><tspan dy="-3">)</tspan></text>
</g>

<!-- ===== human behaviour factors ===== -->
<g id="alpha-H"><rect x="934" y="267" width="91" height="31" fill="#e6007e"/><text class="al" x="979.5" y="288">α<tspan font-size="11" dy="3">H</tspan></text></g>
<g id="alpha-Hi"><rect x="1070" y="267" width="91" height="31" fill="#e6007e"/><text class="al" x="1115.5" y="288">α<tspan font-size="11" dy="3">Hi</tspan></text></g>
<g id="alpha-Hij"><rect x="1208" y="267" width="90" height="31" fill="#e6007e"/><text class="al" x="1253" y="288">α<tspan font-size="11" dy="3">Hij</tspan></text></g>
<g id="alpha-Hij-dots"><rect x="1344" y="267" width="91" height="31" fill="#e6007e"/><text class="al" x="1389.5" y="288">α<tspan font-size="11" dy="3">Hij..</tspan></text></g>
<g id="alpha-Hijk"><rect x="1482" y="267" width="90" height="31" fill="#e6007e"/><text class="al" x="1527" y="288">α<tspan font-size="11" dy="3">Hij...k</tspan></text></g>

<!-- ===== damage per hazard ===== -->
<g id="damage-H">
<rect x="951" y="322" width="128" height="61" fill="#fff" stroke="#1e7ac4" stroke-width="2"/>
<text class="ex" x="1015" y="347">D<tspan class="sub" dy="3">H</tspan><tspan dy="-3"> =</tspan></text>
<text class="ex" x="1015" y="368">D'<tspan class="sub" dy="3">H</tspan><tspan dy="-3"> +D''</tspan><tspan class="sub" dy="3">H</tspan></text>
</g>
<g id="damage-Hi">
<rect x="1088" y="322" width="128" height="61" fill="#fff" stroke="#e30613" stroke-width="2"/>
<text class="ex" x="1152" y="347">D<tspan class="sub" dy="3">Hi</tspan><tspan dy="-3"> =</tspan></text>
<text class="ex" x="1152" y="368">D'<tspan class="sub" dy="3">Hi</tspan><tspan dy="-3"> +D''</tspan><tspan class="sub" dy="3">Hi</tspan></text>
</g>
<g id="damage-Hij">
<rect x="1225" y="322" width="128" height="61" fill="#fff" stroke="#66b32e" stroke-width="2"/>
<text class="ex" x="1289" y="347">D<tspan class="sub" dy="3">Hij</tspan><tspan dy="-3"> =</tspan></text>
<text class="ex" x="1289" y="368">D'<tspan class="sub" dy="3">Hij</tspan><tspan dy="-3"> +D''</tspan><tspan class="sub" dy="3">Hij</tspan></text>
</g>
<g id="damage-dots">
<rect x="1362" y="322" width="129" height="61" fill="#fff" stroke="#fdc800" stroke-width="2"/>
<text class="ex" x="1426.5" y="356" font-size="12">...</text>
</g>
<g id="damage-Hijk">
<rect x="1497" y="322" width="142" height="61" fill="#fff" stroke="#a5207f" stroke-width="2"/>
<text class="ex" x="1568" y="347">D<tspan class="sub" dy="3">Hij...k</tspan><tspan dy="-3"> =</tspan></text>
<text class="ex" x="1568" y="368">D'<tspan class="sub" dy="3">Hij...k</tspan><tspan dy="-3"> +D''</tspan><tspan class="sub" dy="3">Hij...k</tspan></text>
</g>

<!-- ===== final damage ===== -->
<g id="final-damage">
<rect x="1374" y="398" width="496" height="105" fill="#fff" stroke="#a5207f" stroke-width="2"/>
<text class="b r" font-size="13" transform="translate(1863 416) scale(0.76 1)">FINAL</text>
<text class="b r" font-size="13" transform="translate(1864 430) scale(0.76 1)">DAMAGE</text>
<rect x="1498" y="403" width="55" height="22" fill="#e6007e"/>
<text class="b w m" x="1525.5" y="420" font-size="15">ΣD'</text>
<rect x="1584" y="403" width="53" height="22" fill="#e6007e"/>
<text class="b w m" x="1610.5" y="420" font-size="15">ΣD''</text>
<text class="b m" x="1568" y="420" font-size="14" style="fill:#e6007e">+</text>
<text class="fd" x="1456" y="458" textLength="82" lengthAdjust="spacingAndGlyphs">SINGLE DAMAGE ON</text>
<text class="fd" x="1440" y="473" textLength="114" lengthAdjust="spacingAndGlyphs">ELEMENTS EXPOSED TO A</text>
<text class="fd" x="1380" y="488" textLength="174" lengthAdjust="spacingAndGlyphs">SINGLE HAZARD IN THE CHAIN</text>
<text class="fd" x="1589" y="458" textLength="120" lengthAdjust="spacingAndGlyphs">CUMULATIVE DAMAGE</text>
<text class="fd" x="1589" y="473" textLength="135" lengthAdjust="spacingAndGlyphs">ONDELEMENTS EXPOSED</text>
<text class="fd" x="1589" y="488" textLength="183" lengthAdjust="spacingAndGlyphs">TO MORE HAZARDS IN THE CHAIN</text>
</g>

</g>
</svg>
